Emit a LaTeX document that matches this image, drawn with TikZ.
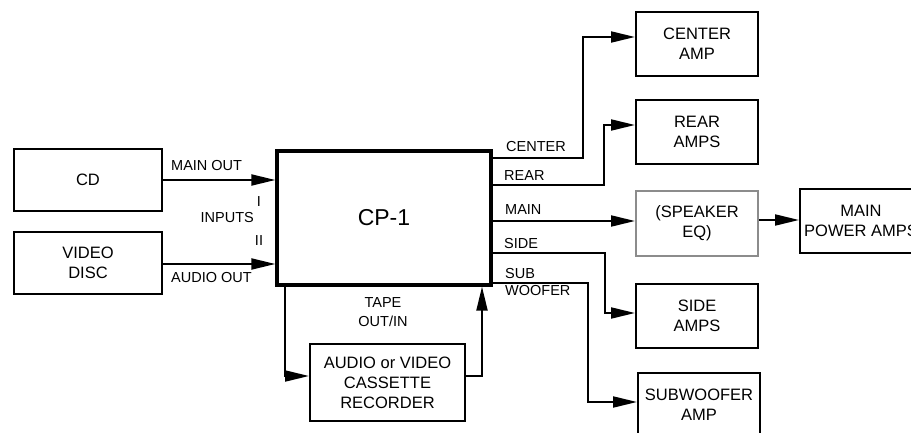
\documentclass[tikz,border=0pt]{standalone}
\usepackage{fontspec}
\setmainfont{Liberation Sans}
\usetikzlibrary{arrows.meta}
\begin{document}
\begin{tikzpicture}[x=1pt,y=-1pt,
  box/.style={draw,line width=2pt,inner sep=0pt,align=center,
    font=\fontsize{16.5}{20}\selectfont},
  lbl/.style={inner sep=0pt,font=\fontsize{14.5}{17.5}\selectfont},
  wire/.style={line width=2pt},
  arr/.style={wire,-{Triangle[length=24pt,width=11pt]}}]
\useasboundingbox (0,0) rectangle (911,433);
% boxes
\node[box,minimum width=148pt,minimum height=62pt] (cd) at (88,180) {CD};
\node[box,minimum width=148pt,minimum height=62pt] (vd) at (88,263) {VIDEO\\DISC};
\node[box,line width=3.3pt,minimum width=214pt,minimum height=134pt,font=\fontsize{23}{26}\selectfont] (cp) at (384,218) {CP-1};
\node[box,minimum width=122pt,minimum height=64pt] (camp) at (697,44) {CENTER\\AMP};
\node[box,minimum width=122pt,minimum height=64pt] (ramp) at (697,132) {REAR\\AMPS};
\node[box,draw=black!45,minimum width=122pt,minimum height=65pt] (eq) at (697,223.5) {(SPEAKER\\EQ)};
\node[box,minimum width=122pt,minimum height=64pt] (mp) at (861,221) {MAIN\\POWER AMPS};
\node[box,minimum width=122pt,minimum height=64pt] (samp) at (697,316) {SIDE\\AMPS};
\node[box,minimum width=122pt,minimum height=64pt] (subamp) at (699,405) {SUBWOOFER\\AMP};
\node[box,minimum width=155pt,minimum height=77pt] (rec) at (387.5,382.5) {AUDIO or VIDEO\\CASSETTE\\RECORDER};
% inputs
\draw[arr] (cd.east) -- (cd.east -| cp.west);
\draw[arr] ([yshift=-1pt]vd.east) -- ([yshift=-1pt]vd.east -| cp.west);
% outputs
\draw[arr] ([yshift=60pt]cp.east) -- (583,158) |- ([yshift=7pt]camp.west);
\draw[arr] ([yshift=33pt]cp.east) -- (604,185) |- ([yshift=7pt]ramp.west);
\draw[arr] ([yshift=-3pt]cp.east) -- ([yshift=2.5pt]eq.west);
\draw[arr] ([yshift=3.5pt]eq.east) -- ([yshift=1pt]mp.west);
\draw[arr] ([yshift=-35pt]cp.east) -- (605,253) |- ([yshift=3pt]samp.west);
\draw[arr] ([yshift=-65pt]cp.east) -- (588,283) |- ([yshift=3pt]subamp.west);
% tape loop
\draw[arr] ([xshift=-99pt]cp.south) |- ([yshift=6.5pt]rec.west);
\draw[arr] ([yshift=6.5pt]rec.east) -| ([xshift=98pt]cp.south);
% labels
\node[lbl,anchor=west] (lmo) at (171,166) {MAIN OUT};
\node[lbl,anchor=west] (lao) at (171,278) {AUDIO OUT};
\node[lbl] (li) at (259,202) {I};
\node[lbl,anchor=east] (lin) at (254,218) {INPUTS};
\node[lbl] (lii) at (259,241) {II};
\node[lbl,align=center,font=\fontsize{14.5}{19}\selectfont] (ltape) at (383,312.5) {TAPE\\OUT/IN};
\node[lbl,anchor=west] (lc) at (506,147) {CENTER};
\node[lbl,anchor=west] (lr) at (504,176) {REAR};
\node[lbl,anchor=west] (lm) at (505,210) {MAIN};
\node[lbl,anchor=west] (ls) at (504,244) {SIDE};
\node[lbl,anchor=west,align=left] (lsub) at (505,282) {SUB\\WOOFER};
\end{tikzpicture}
\end{document}
